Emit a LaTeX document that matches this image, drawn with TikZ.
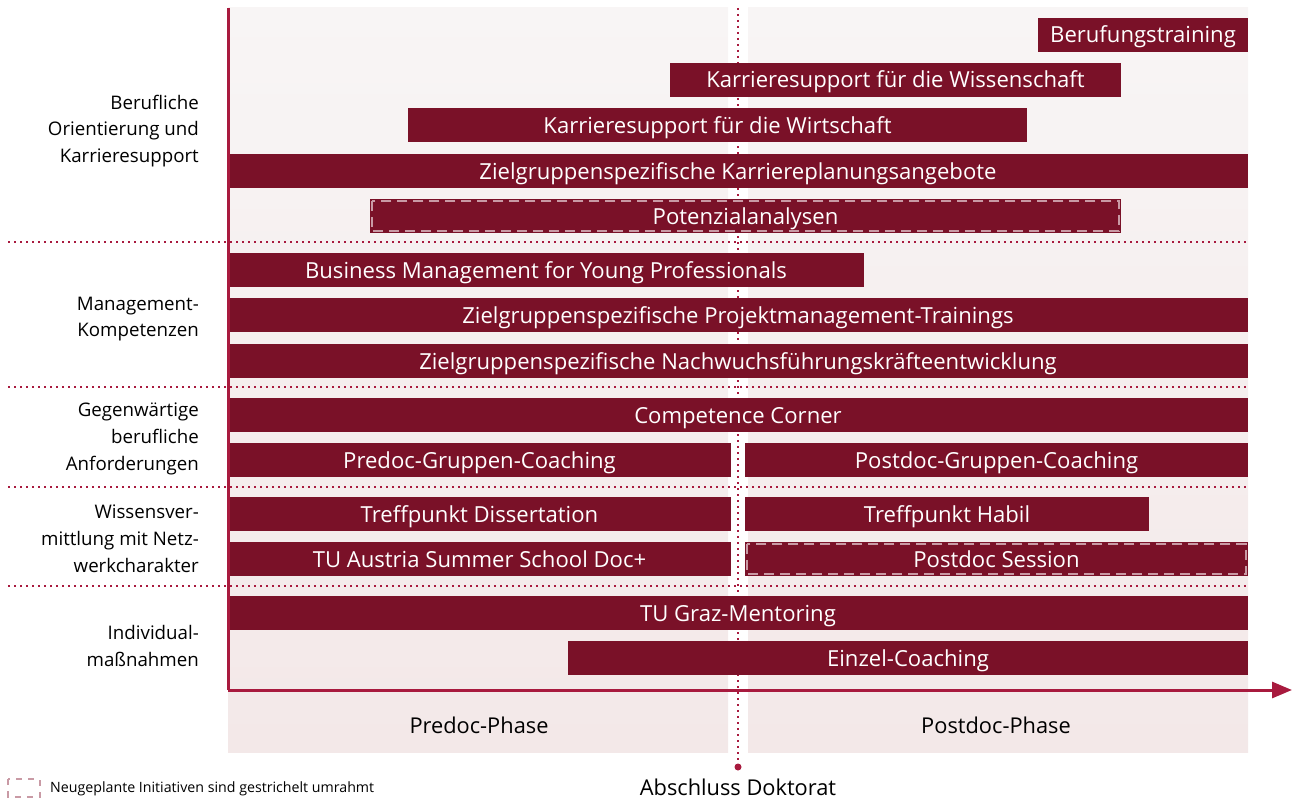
\documentclass[tikz,border=0pt]{standalone}
\usepackage{fontspec}
\setmainfont{Open Sans}
\usetikzlibrary{arrows.meta}
\definecolor{tured}{HTML}{7A1128}
\definecolor{axisred}{HTML}{A81A3E}
\definecolor{bgtop}{HTML}{F8F5F5}
\definecolor{bgbot}{HTML}{F3E8E8}
\definecolor{dashpink}{HTML}{C99AA5}
\tikzset{
  bar/.style={fill=tured, text=white, minimum height=34pt, inner sep=0pt, text height=16pt, text depth=0pt, font=\fontsize{22.1}{26}\selectfont},
  newframe/.style={draw=dashpink, line width=2.5pt, dash pattern=on 10pt off 6pt},
  catlabel/.style={anchor=east, align=right, inner sep=0pt, font=\fontsize{18.7}{26.8}\selectfont},
  rowsep/.style={axisred, line width=2pt, dash pattern=on 2pt off 4pt},
  phase/.style={bottom color=bgbot, top color=bgtop, draw=none},
  bigtext/.style={font=\fontsize{21.8}{26}\selectfont}
}
\begin{document}
\begin{tikzpicture}[x=1pt, y=-1pt]
		\useasboundingbox (0,0) rectangle (1293,800);

		\shade[phase] (228,8) rectangle (728,752);
		\shade[phase] (748,8) rectangle (1248,752);
		\node[bigtext] (pre) at (479,725) {Predoc-Phase};
		\node[bigtext] (post) at (996,725) {Postdoc-Phase};

		\foreach \y in {242, 387, 487, 586}
			\draw[rowsep] (8,\y) -- (1248,\y);

		\coordinate (dtop) at (738,8);
		\coordinate (dend) at (738,767);
		\draw[rowsep] (dtop) -- (dend);
		\fill[axisred] (dend) circle (3.5pt);
		\node[bigtext] (abs) at (738,787) {Abschluss Doktorat};

		\foreach \a/\b/\y/\n/\t in {
			1038/1248/35/ruf/Berufungstraining,
			670/1121/80/kwiss/Karrieresupport für die Wissenschaft,
			408/1027/125/kwirt/Karrieresupport für die Wirtschaft,
			228/1248/171/kplan/Zielgruppenspezifische Karriereplanungsangebote,
			370/1121/216/pot/Potenzialanalysen,
			228/864/270/bm/Business Management for Young Professionals,
			228/1248/315/pm/Zielgruppenspezifische Projektmanagement-Trainings,
			228/1248/361/nfk/Zielgruppenspezifische Nachwuchsführungskräfteentwicklung,
			228/1248/415/cc/Competence Corner,
			228/731/460/prec/Predoc-Gruppen-Coaching,
			745/1248/460/postc/Postdoc-Gruppen-Coaching,
			228/731/514/diss/Treffpunkt Dissertation,
			745/1149/514/hab/Treffpunkt Habil,
			228/731/559/summ/TU Austria Summer School Doc+,
			745/1248/559/pds/Postdoc Session,
			228/1248/613/ment/TU Graz-Mentoring,
			568/1248/658/ezc/Einzel-Coaching}
			\node[bar, minimum width=\b pt-\a pt] (\n) at ({(\a+\b)/2},\y) {\t};

		\draw[newframe] ([shift={(2,2)}]pot.north west) rectangle ([shift={(-2,-2)}]pot.south east);
		\draw[newframe] ([shift={(2,2)}]pds.north west) rectangle ([shift={(-2,-2)}]pds.south east);

		\coordinate (origin) at (228,690);
		\coordinate (top) at (228,8);
		\coordinate (tip) at (1292,690);
		\draw[axisred, line width=3pt] (top) -- (origin);
		\draw[axisred, line width=3pt, -{Triangle[length=20pt, width=16pt]}] (origin) -- (tip);

		\node[catlabel] (orient) at (199,131) {Berufliche\\Orientierung und\\Karrieresupport};
		\node[catlabel] (mgmt) at (199,319) {Management-\\Kompetenzen};
		\node[catlabel] (anf) at (199,439) {Gegenwärtige\\berufliche\\Anforderungen};
		\node[catlabel] (wiss) at (199,539) {Wissensver-\\mittlung mit Netz-\\werkcharakter};
		\node[catlabel] (indiv) at (199,646) {Individual-\\maßnahmen};

		\node[minimum width=31pt, minimum height=17pt, inner sep=0pt] (leg) at (24,788) {};
		\draw[newframe, dash pattern=on 6pt off 6pt, line width=2pt] (leg.north west) rectangle (leg.south east);
		\node[anchor=west, inner sep=0pt, font=\fontsize{14.2}{17}\selectfont] (legtxt) at (50,789) {Neugeplante Initiativen sind gestrichelt umrahmt};
	\end{tikzpicture}
\end{document}
